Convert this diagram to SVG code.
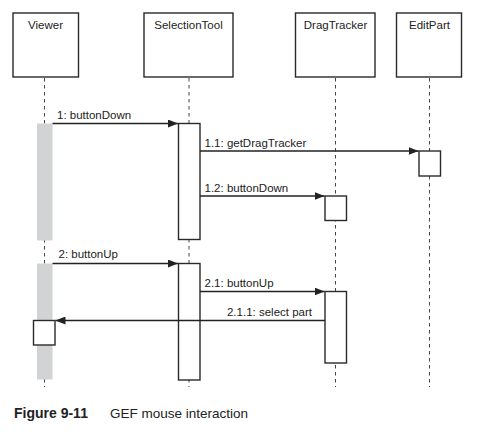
<svg xmlns="http://www.w3.org/2000/svg" width="482" height="432" viewBox="0 0 482 432">
<defs>
<style>
.obj{fill:#fff;stroke:#2a2a2a;stroke-width:1.4}
.act{fill:#fff;stroke:#2a2a2a;stroke-width:1.4}
.life{stroke:#444;stroke-width:1;stroke-dasharray:3.5,3.5;fill:none}
.msg{stroke:#222;stroke-width:1.3;fill:none;marker-end:url(#ah)}
.t{font-family:"Liberation Sans",Arial,sans-serif;font-size:11.5px;fill:#222}
.gray{fill:#d2d3d5}
.cap{font-family:"Liberation Sans",Arial,sans-serif;fill:#222}
</style>
<marker id="ah" viewBox="0 0 10 8" refX="10" refY="4" markerWidth="10" markerHeight="8" markerUnits="userSpaceOnUse" orient="auto">
<path d="M0,0 L10,4 L0,8 Z" fill="#222"/>
</marker>
</defs>
<rect width="482" height="432" fill="#fff"/>
<g id="lifelines">
<line class="life" x1="44.5" y1="78" x2="44.5" y2="387"/>
<line class="life" x1="189" y1="78" x2="189" y2="387"/>
<line class="life" x1="335.5" y1="78" x2="335.5" y2="387"/>
<line class="life" x1="429.5" y1="78" x2="429.5" y2="387"/>
</g>
<g id="viewer">
<rect class="obj" x="13" y="13" width="65.5" height="64"/>
<text class="t" x="45.5" y="28.5" text-anchor="middle">Viewer</text>
<rect class="gray" x="37" y="123.5" width="15.5" height="117"/>
<rect class="gray" x="37" y="263.5" width="15.5" height="116"/>
<rect class="act" x="33.5" y="320.5" width="21.5" height="24.5"/>
</g>
<g id="selectiontool">
<rect class="obj" x="144" y="13" width="89" height="64"/>
<text class="t" x="188.5" y="28.5" text-anchor="middle">SelectionTool</text>
<rect class="act" x="178.5" y="123.5" width="21.5" height="116"/>
<rect class="act" x="178.5" y="263.5" width="21.5" height="116.5"/>
</g>
<g id="dragtracker">
<rect class="obj" x="295.5" y="13" width="79.5" height="64"/>
<text class="t" x="335.5" y="28.5" text-anchor="middle">DragTracker</text>
<rect class="act" x="325" y="196" width="21.5" height="24.5"/>
<rect class="act" x="325" y="291.5" width="21.5" height="71.5"/>
</g>
<g id="editpart">
<rect class="obj" x="396.5" y="13" width="65" height="64"/>
<text class="t" x="429.5" y="28.5" text-anchor="middle">EditPart</text>
<rect class="act" x="419" y="151" width="21.5" height="25"/>
</g>
<g id="connectors">
<line class="msg" x1="52.5" y1="123.5" x2="178" y2="123.5"/>
<text class="t" x="57" y="119">1: buttonDown</text>
<line class="msg" x1="200" y1="151" x2="418.5" y2="151"/>
<text class="t" x="204.5" y="146.5">1.1: getDragTracker</text>
<line class="msg" x1="200" y1="196" x2="324.5" y2="196"/>
<text class="t" x="204.5" y="192">1.2: buttonDown</text>
<line class="msg" x1="52.5" y1="263.5" x2="178" y2="263.5"/>
<text class="t" x="58.5" y="258">2: buttonUp</text>
<line class="msg" x1="200" y1="291.5" x2="324.5" y2="291.5"/>
<text class="t" x="204.5" y="287">2.1: buttonUp</text>
<line class="msg" x1="325" y1="320.5" x2="55.5" y2="320.5"/>
<text class="t" x="312" y="316" text-anchor="end">2.1.1: select part</text>
</g>
<g id="caption">
<text class="cap" x="14" y="418" font-size="14" font-weight="bold">Figure 9-11</text>
<text class="cap" x="110" y="418" font-size="13.5">GEF mouse interaction</text>
</g>
</svg>
